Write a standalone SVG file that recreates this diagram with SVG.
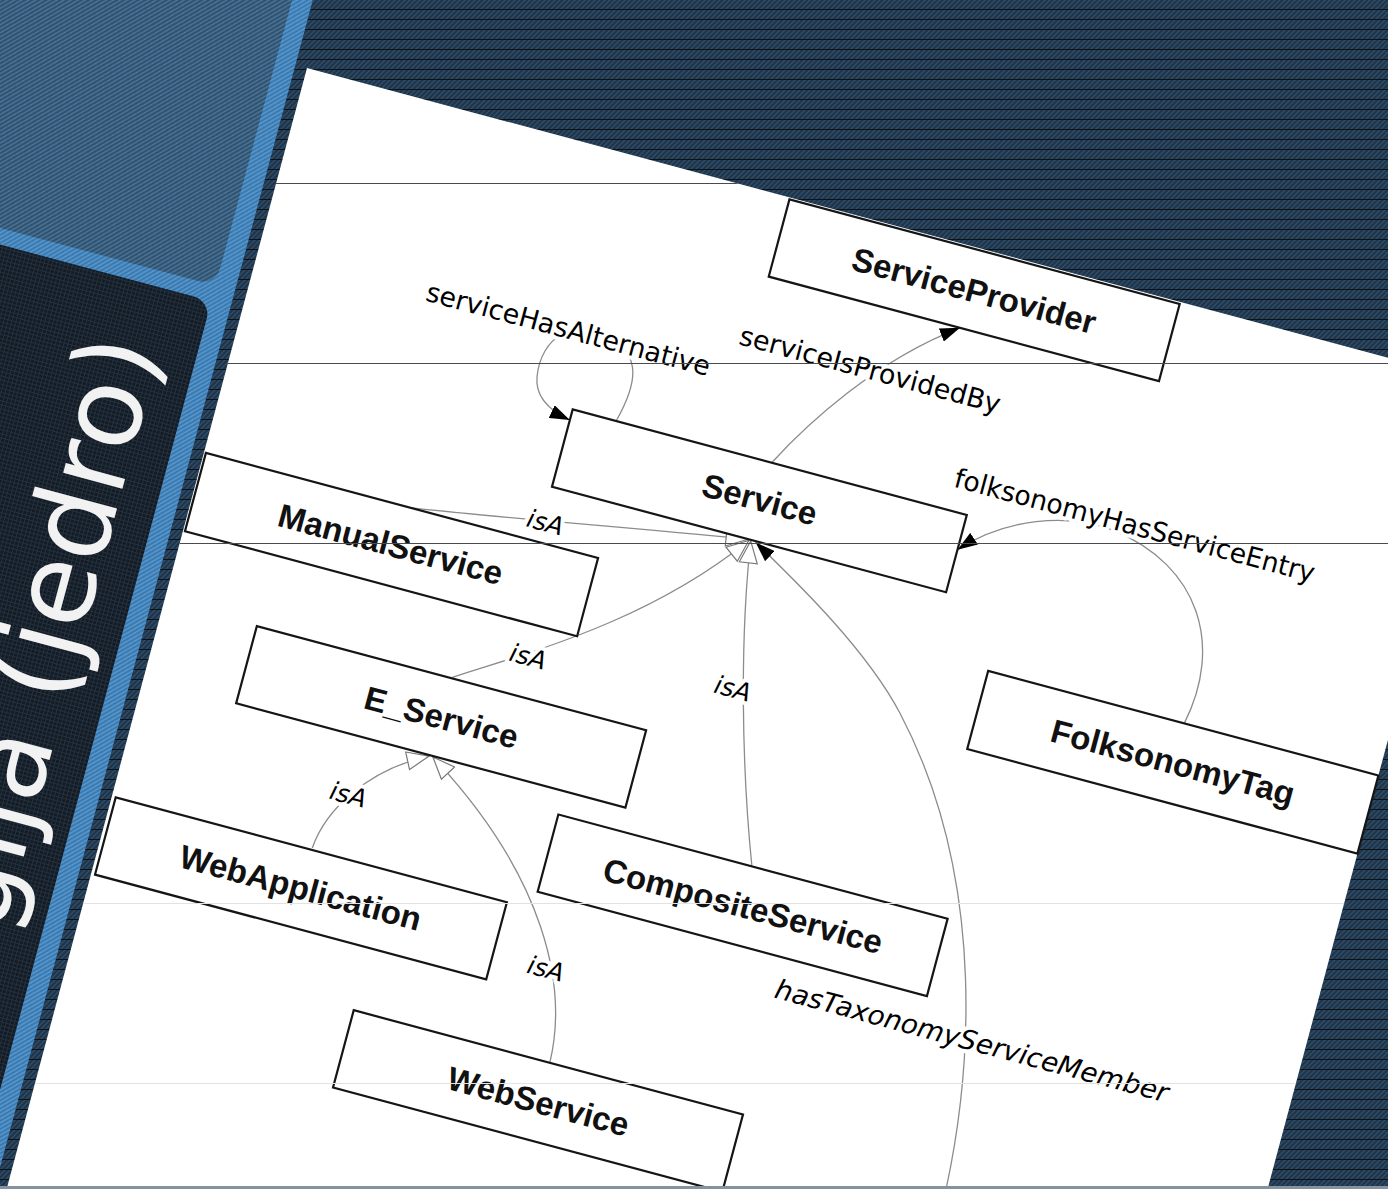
<svg xmlns="http://www.w3.org/2000/svg" width="1388" height="1189" viewBox="0 0 1388 1189">
<style>
.box{fill:#fff;stroke:#151515;stroke-width:2.2}
.nl{font-family:"Liberation Sans",Arial,sans-serif;font-weight:700;font-size:33px;fill:#111;text-anchor:middle}
.el{font-family:"DejaVu Sans",sans-serif;font-size:27px;fill:#000;text-anchor:middle;stroke:#fff;stroke-width:8;stroke-linejoin:round;paint-order:stroke}
.it{font-style:italic}
.isa{font-family:"DejaVu Sans",sans-serif;font-style:italic;font-size:25px;fill:#000;text-anchor:middle;stroke:#fff;stroke-width:8;stroke-linejoin:round;paint-order:stroke}
.c{fill:none;stroke:#8c8c8c;stroke-width:1.3}
.scan{stroke:#474c52;stroke-width:1}
.scan2{stroke:#e2e2e2;stroke-width:1}
.big{font-family:"DejaVu Sans",sans-serif;font-size:112px;fill:#f2f2f2}
</style>
<defs>
<pattern id="pBg" width="10" height="10" patternUnits="userSpaceOnUse">
<rect width="10" height="10" fill="#213548"/>
<path d="M-2,2 L2,-2 M-2,7 L7,-2 M0,10 L10,0 M3,12 L12,3 M8,12 L12,8" stroke="#2e5273" stroke-width="1.2"/>
<rect y="9" width="10" height="1" fill="#0b1117"/>
</pattern>
<pattern id="pLt" width="10" height="10" patternUnits="userSpaceOnUse">
<rect width="10" height="10" fill="#32506a"/>
<path d="M-2,2 L2,-2 M-2,7 L7,-2 M0,10 L10,0 M3,12 L12,3 M8,12 L12,8" stroke="#4e82ae" stroke-width="1.2"/>
</pattern>
<pattern id="pBl" width="10" height="10" patternUnits="userSpaceOnUse">
<rect width="10" height="10" fill="#3a77ab"/>
<path d="M-2,2 L2,-2 M-2,7 L7,-2 M0,10 L10,0 M3,12 L12,3 M8,12 L12,8" stroke="#5c9fd8" stroke-width="1.3"/>
</pattern>
<pattern id="pDk" width="4" height="4" patternUnits="userSpaceOnUse">
<rect width="4" height="4" fill="#141b23"/>
<path d="M0,0.5H4 M0.5,0V4" stroke="#22303f" stroke-width="1"/>
</pattern>
<marker id="arrF" viewBox="0 0 20 14" refX="20" refY="7" markerWidth="20" markerHeight="14" orient="auto" markerUnits="userSpaceOnUse">
<path d="M0,0 L20,7 L0,14 Z" fill="#000"/>
</marker>
<marker id="arrO" viewBox="0 0 24 20" refX="23" refY="10" markerWidth="24" markerHeight="20" orient="auto" markerUnits="userSpaceOnUse">
<path d="M1,1 L23,10 L1,19 Z" fill="#fff" stroke="#7a7a7a" stroke-width="1.2"/>
</marker>
<clipPath id="dkClip"><rect x="-700" y="250" width="668" height="1500" rx="18" transform="translate(307,68) rotate(15)"/></clipPath>
<clipPath id="pgClip"><rect x="0" y="0" width="1218" height="1400" transform="translate(307,68) rotate(15)"/></clipPath>
</defs>

<!-- background -->
<rect width="1388" height="1189" fill="url(#pBg)"/>
<g transform="translate(307,68) rotate(15)">
<rect x="-700" y="-700" width="688" height="2600" fill="url(#pBl)"/>
<rect x="-700" y="-700" width="668" height="934" rx="18" fill="url(#pLt)"/>
<rect x="-700" y="250" width="668" height="1500" rx="18" fill="url(#pDk)"/>
</g>
<g clip-path="url(#dkClip)">
<text class="big" transform="translate(160,348) rotate(-75)" text-anchor="end">gija (jedro)</text>
</g>

<g transform="translate(307,68) rotate(15)">
<rect id="page" x="0" y="0" width="1218" height="1400" fill="#fff"/>

<g id="connectors">
<path class="c" marker-end="url(#arrF)" d="M390,261 C400,222 400,190 358,180 C322,172 296,200 302,238 C305,258 322,268 345,272"/>
<path class="c" marker-end="url(#arrF)" d="M551,261 C575,215 625,135 698,82"/>
<path class="c" marker-end="url(#arrF)" d="M1017,406 C1035,320 990,250 900,238 C850,232 790,255 753,297"/>
<path class="c" marker-end="url(#arrF)" d="M908,1000 C915,800 860,600 740,470 C692,418 610,372 556,342"/>
<path class="c" marker-end="url(#arrO)" d="M213,398 C290,387 420,362 548,341"/>
<path class="c" marker-end="url(#arrO)" d="M298,551 C360,510 470,450 549,342"/>
<path class="c" marker-end="url(#arrO)" d="M636,655 C600,560 566,440 551,342"/>
<path class="c" marker-end="url(#arrO)" d="M207,752 C210,712 240,662 296,633"/>
<path class="c" marker-end="url(#arrO)" d="M492,898 C490,820 440,720 300,633"/>
<text class="el" x="320" y="194" textLength="293" lengthAdjust="spacingAndGlyphs">serviceHasAlternative</text>
<text class="el" x="622" y="155" textLength="269" lengthAdjust="spacingAndGlyphs">serviceIsProvidedBy</text>
<text class="el" x="918" y="237" textLength="372" lengthAdjust="spacingAndGlyphs">folksonomyHasServiceEntry</text>
<text class="el it" x="894" y="777" textLength="406" lengthAdjust="spacingAndGlyphs">hasTaxonomyServiceMember</text>
<text class="isa" x="348" y="386">isA</text>
<text class="isa" x="366" y="520">isA</text>
<text class="isa" x="572" y="498">isA</text>
<text class="isa" x="228" y="700">isA</text>
<text class="isa" x="464" y="817">isA</text>
</g>

<g id="node-serviceprovider"><rect class="box" x="500" y="2" width="404" height="80"/><text class="nl" x="702" y="54">ServiceProvider</text></g>
<g id="node-service"><rect class="box" x="345" y="261" width="408" height="80"/><text class="nl" x="549" y="311">Service</text></g>
<g id="node-manualservice"><rect class="box" x="2" y="398" width="406" height="81"/><text class="nl" x="204" y="450">ManualService</text></g>
<g id="node-e-service"><rect class="box" x="96" y="552" width="403" height="80"/><text class="nl" x="298" y="604">E_Service</text></g>
<g id="node-webapplication"><rect class="box" x="4" y="754" width="405" height="80"/><text class="nl" x="206" y="805">WebApplication</text></g>
<g id="node-compositeservice"><rect class="box" x="436" y="656" width="403" height="80"/><text class="nl" x="638" y="708">CompositeService</text></g>
<g id="node-webservice"><rect class="box" x="289" y="898" width="403" height="80"/><text class="nl" x="491" y="950">WebService</text></g>
<g id="node-folksonomytag"><rect class="box" x="814" y="406" width="404" height="81"/><text class="nl" x="1016" y="458">FolksonomyTag</text></g>
</g>

<g clip-path="url(#pgClip)">
<path class="scan" d="M0,183.5H1388 M0,363.5H1388 M0,543.5H1388"/>
<path class="scan2" d="M0,903.5H1388 M0,1083.5H1388"/>
</g>
<rect x="0" y="1186" width="1388" height="3" fill="#8593a0"/>
</svg>
